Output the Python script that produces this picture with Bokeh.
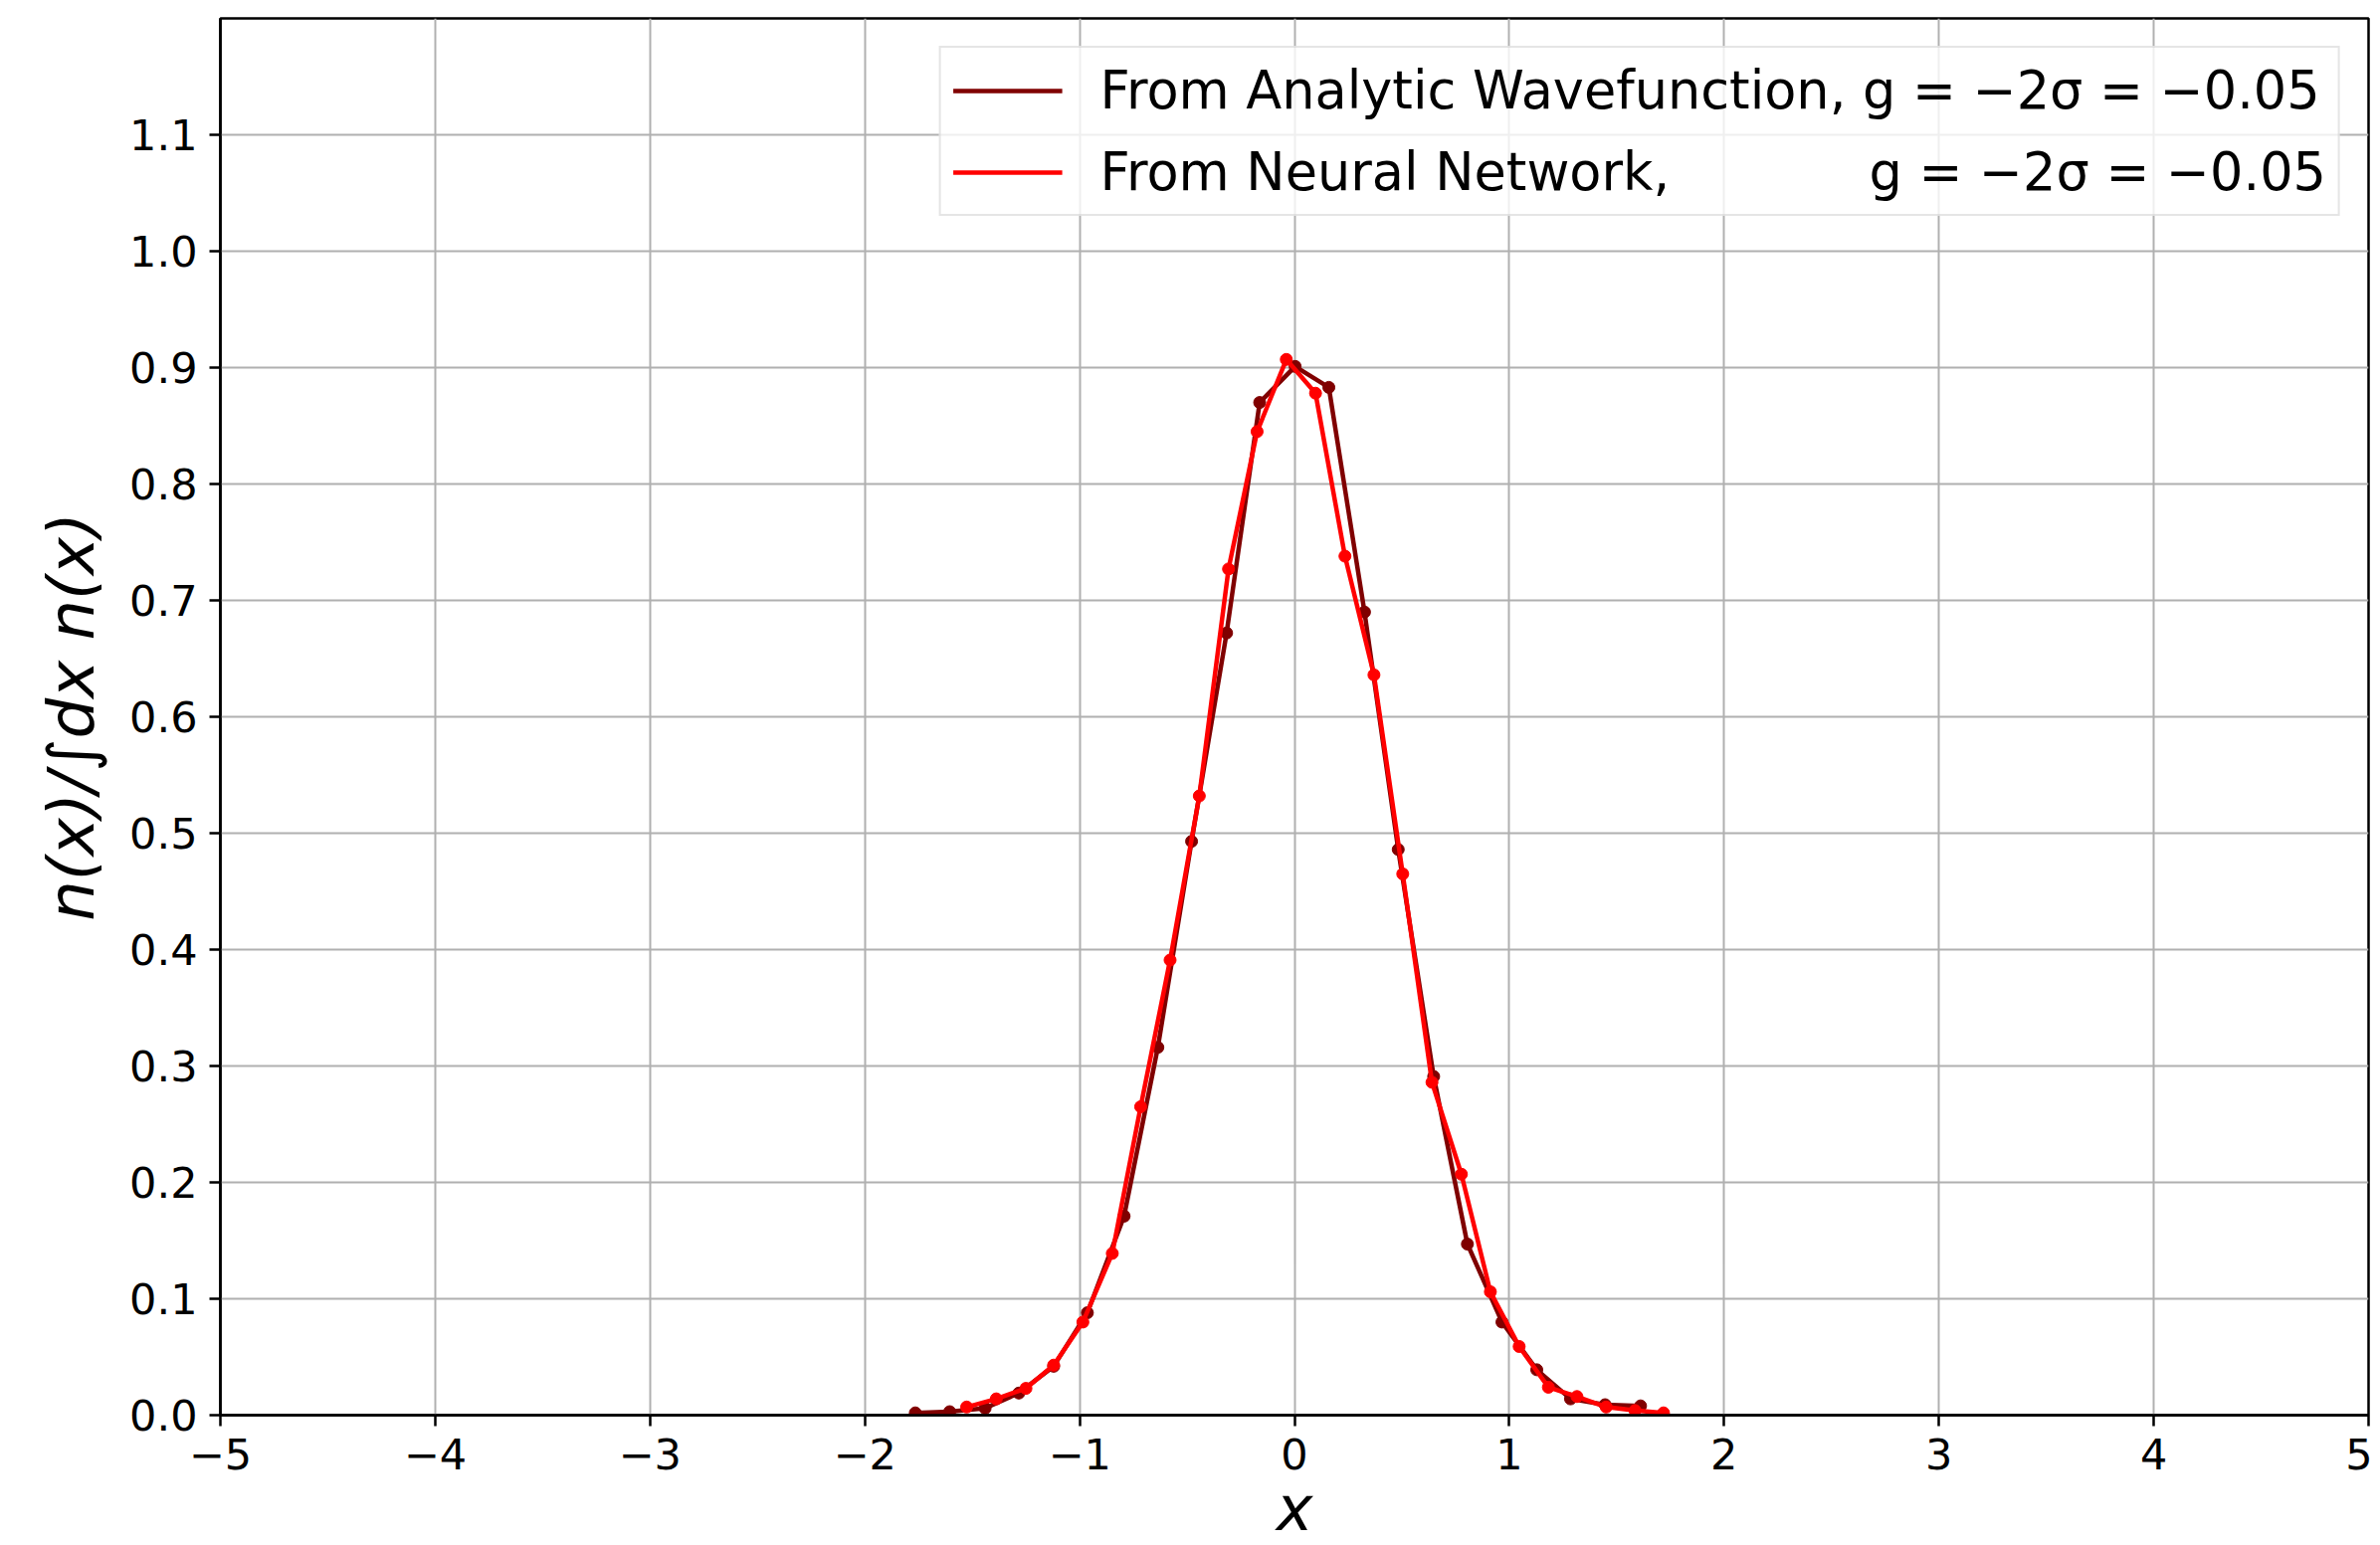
from bokeh.plotting import figure
from bokeh.models import (FixedTicker, PrintfTickFormatter, CustomJSTickFormatter,
                          Legend, LegendItem, Range1d)
from bokeh.embed import file_html
from bokeh.resources import INLINE

# ---- data ----
x_analytic = [-1.765, -1.605, -1.440, -1.283, -1.121, -0.964, -0.793, -0.636, -0.479, -0.316,
              -0.162, 0.003, 0.160, 0.326, 0.483, 0.648, 0.805, 0.966, 1.128, 1.285, 1.446, 1.611]
n_analytic = [0.002, 0.003, 0.006, 0.019, 0.042, 0.088, 0.171, 0.316, 0.493, 0.672,
              0.870, 0.901, 0.883, 0.690, 0.486, 0.291, 0.147, 0.080, 0.039, 0.014, 0.009, 0.008]

x_nn = [-1.526, -1.388, -1.250, -1.121, -0.985, -0.848, -0.716, -0.579, -0.443, -0.307,
        -0.174, -0.038, 0.098, 0.235, 0.370, 0.504, 0.640, 0.777, 0.912, 1.046,
        1.182, 1.315, 1.451, 1.585, 1.718]
n_nn = [0.007, 0.014, 0.023, 0.043, 0.080, 0.139, 0.265, 0.391, 0.532, 0.727,
        0.845, 0.907, 0.878, 0.738, 0.636, 0.465, 0.286, 0.207, 0.106, 0.059,
        0.024, 0.016, 0.007, 0.004, 0.002]

x_ticks = [-5, -4, -3, -2, -1, 0, 1, 2, 3, 4, 5]
y_ticks = [0.0, 0.1, 0.2, 0.3, 0.4, 0.5, 0.6, 0.7, 0.8, 0.9, 1.0, 1.1]

label_analytic = "From Analytic Wavefunction, g = \u22122\u03c3 = \u22120.05"
label_nn = "From Neural Network, " + "\u00a0" * 11 + "g = \u22122\u03c3 = \u22120.05"

FONT = "DejaVu Sans"
DARK = "#800000"
RED = "#ff0000"

p = figure(frame_width=2159, frame_height=1404,
           x_range=Range1d(-5, 5), y_range=Range1d(0, 1.2),
           output_backend="svg", toolbar_location=None,
           min_border_left=221, min_border_right=4, min_border_top=18, min_border_bottom=20)
p.background_fill_color = "white"
p.border_fill_color = "white"
p.outline_line_color = "black"
p.outline_line_width = 2.5

l1 = p.line(x_analytic, n_analytic, line_color=DARK, line_width=4.5)
p.scatter(x_analytic, n_analytic, size=12, fill_color=DARK, line_color=DARK)
l2 = p.line(x_nn, n_nn, line_color=RED, line_width=4.5)
p.scatter(x_nn, n_nn, size=12, fill_color=RED, line_color=RED)

# axes
p.xaxis.ticker = FixedTicker(ticks=x_ticks)
p.yaxis.ticker = FixedTicker(ticks=y_ticks)
p.xaxis.formatter = CustomJSTickFormatter(
    code="return tick < 0 ? '\u2212' + Math.abs(tick).toString() : tick.toString();")
p.yaxis.formatter = PrintfTickFormatter(format="%.1f")
for ax in (p.xaxis, p.yaxis):
    ax.axis_line_color = "black"
    ax.axis_line_width = 2.5
    ax.major_tick_line_color = "black"
    ax.major_tick_line_width = 2.5
    ax.major_tick_out = 11
    ax.major_tick_in = 0
    ax.minor_tick_line_color = None
    ax.major_label_text_font = FONT
    ax.major_label_text_font_size = "43px"
    ax.major_label_text_color = "black"
    ax.axis_label_text_font = FONT
    ax.axis_label_text_font_style = "italic"
    ax.axis_label_text_color = "black"
    ax.major_label_standoff = 12

p.xaxis.axis_label = "x"
p.xaxis.axis_label_text_font_size = "62px"
p.xaxis.axis_label_standoff = 0
p.yaxis.axis_label = "n(x)/\u222bdx n(x)"
p.yaxis.axis_label_text_font_size = "64px"
p.yaxis.axis_label_standoff = 18

p.grid.grid_line_color = "#b0b0b0"
p.grid.grid_line_width = 2

legend = Legend(items=[LegendItem(label=label_analytic, renderers=[l1]),
                       LegendItem(label=label_nn, renderers=[l2])],
                location="top_right")
legend.label_text_font = FONT
legend.label_text_font_size = "52.5px"
legend.label_text_color = "black"
legend.glyph_width = 110
legend.glyph_height = 60
legend.label_height = 60
legend.label_standoff = 38
legend.spacing = 21
legend.padding = 12
legend.margin = 28
legend.border_line_color = "#cccccc"
legend.border_line_width = 2
legend.background_fill_color = "white"
legend.background_fill_alpha = 0.8
p.add_layout(legend)

open("out.html", "w").write(file_html(p, INLINE))
